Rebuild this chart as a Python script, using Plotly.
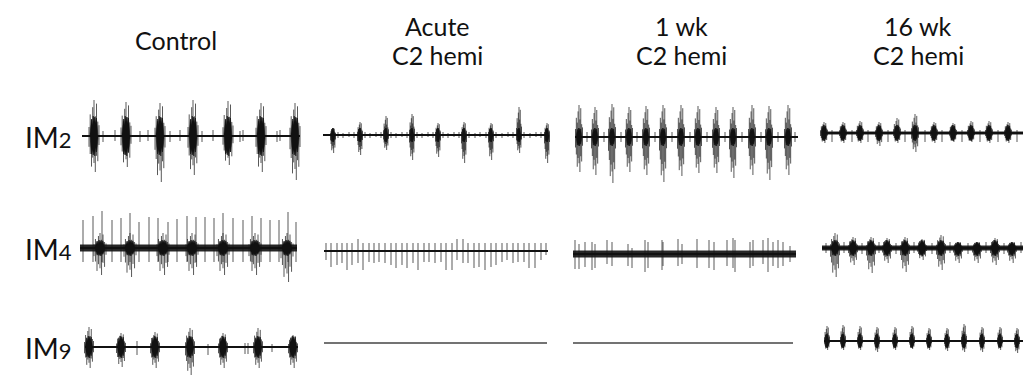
import plotly.graph_objects as go

# ------------------------------------------------------------------
# DATA  (t = time in sample units from start of each record,
#        amplitudes in arbitrary units: up = positive peak, dn = negative peak)
# ------------------------------------------------------------------
COLUMN_TITLES = [["Control"], ["Acute", "C2 hemi"], ["1 wk", "C2 hemi"], ["16 wk", "C2 hemi"]]
MUSCLES = ["2", "4", "9"]

# ---- IM2 ----
CTRL_IM2_LEN = 218
CTRL_IM2_BURSTS = [(12, 36, 36), (44, 34, 31), (78, 33, 46), (111, 36, 39), (146, 35, 29), (179, 33, 36), (213, 33, 44)]
CTRL_IM2_SPIKES = [(21, 5, 6), (33, 6, 5), (58, 5, 6), (66, 6, 5), (88, 5, 6), (98, 6, 5), (120, 5, 6), (131, 6, 5),
                   (158, 5, 6), (161, 6, 5), (195, 5, 6), (198, 6, 5)]

ACUTE_IM2_LEN = 225
ACUTE_IM2_BURSTS = [(10, 7, 18), (37, 13, 20), (63, 19, 15), (89, 21, 25), (115, 12, 22), (141, 13, 28), (168, 12, 25),
                    (196, 28, 18), (224, 12, 28)]
ACUTE_IM2_SPIKES = [(15, 3, 3), (20, 2, 3), (26, 3, 2), (31, 3, 3), (42, 3, 3), (47, 2, 3), (53, 3, 2), (58, 3, 3),
                    (68, 3, 3), (73, 2, 3), (79, 3, 2), (84, 3, 3), (94, 3, 3), (99, 2, 3), (105, 3, 2), (110, 3, 3),
                    (120, 3, 3), (125, 2, 3), (131, 3, 2), (136, 3, 3), (146, 3, 3), (152, 2, 3), (157, 3, 2), (163, 3, 3),
                    (173, 3, 3), (179, 2, 3), (185, 3, 2), (190, 3, 3), (201, 3, 3), (207, 2, 3), (213, 3, 2), (218, 3, 3)]

WK1_IM2_LEN = 223
WK1_IM2_BURSTS = [(4, 32, 35), (20, 30, 38), (37, 33, 46), (54, 30, 35), (71, 31, 38), (88, 32, 45), (106, 32, 39),
                  (123, 31, 36), (141, 30, 36), (158, 30, 41), (177, 32, 38), (194, 31, 43), (213, 32, 38)]
WK1_IM2_SPIKES = [(12, 5, 5), (29, 5, 5), (46, 5, 5), (62, 5, 5), (80, 5, 5), (97, 5, 5), (115, 5, 5), (132, 5, 5),
                  (150, 5, 5), (167, 5, 5), (186, 5, 5), (203, 5, 5), (220, 5, 5)]

WK16_IM2_LEN = 205
WK16_IM2_BURSTS = [(2, 11, 10), (21, 11, 10), (38, 12, 10), (57, 11, 13), (75, 15, 10), (93, 19, 19), (112, 11, 10),
                   (131, 10, 9), (149, 12, 9), (167, 12, 10), (186, 11, 10)]
WK16_IM2_SPIKES = [(10, 3, 9), (30, 3, 9), (46, 3, 9), (66, 3, 9), (83, 3, 9), (103, 3, 9), (120, 3, 9), (140, 3, 9),
                   (158, 3, 9), (176, 3, 9), (195, 3, 9)]

# ---- IM4 ----
CTRL_IM4_LEN = 217
CTRL_IM4_BURSTS = [(20, 15, 27), (50, 15, 29), (83, 15, 27), (112, 15, 27), (143, 15, 27), (175, 15, 27), (207, 15, 34)]
CTRL_IM4_SPIKES = [(3, 28, 14), (13, 32, 14), (22, 37, 14), (32, 28, 14), (41, 30, 14), (50, 35, 14), (59, 26, 14),
                   (69, 31, 14), (78, 30, 14), (88, 26, 14), (97, 29, 14), (107, 32, 14), (116, 31, 14), (125, 31, 14),
                   (134, 30, 14), (143, 35, 14), (153, 30, 14), (163, 28, 14), (172, 32, 14), (181, 30, 14),
                   (190, 28, 14), (199, 28, 14), (208, 36, 14), (216, 26, 14)]

ACUTE_IM4_LEN = 224
ACUTE_IM4_BURSTS = []
ACUTE_IM4_SPIKES = [(2, 8, 9), (7, 8, 16), (13, 8, 14), (18, 8, 12), (23, 8, 19), (28, 8, 14), (34, 12, 12), (39, 8, 19),
                    (45, 8, 11), (50, 8, 12), (55, 8, 11), (61, 8, 12), (67, 8, 14), (72, 8, 17), (78, 8, 14),
                    (83, 8, 17), (89, 8, 12), (94, 8, 19), (100, 8, 11), (105, 8, 11), (111, 8, 12), (117, 8, 11),
                    (122, 8, 19), (128, 8, 19), (133, 12, 9), (139, 12, 12), (144, 8, 12), (150, 8, 17), (155, 8, 16),
                    (161, 8, 19), (167, 8, 16), (172, 8, 14), (178, 8, 11), (183, 8, 9), (189, 8, 12), (194, 8, 11),
                    (200, 8, 11), (205, 8, 17), (211, 8, 17), (217, 8, 9), (222, 8, 4)]

WK1_IM4_LEN = 223
WK1_IM4_BURSTS = []
WK1_IM4_SPIKES = [(2, 14, 15), (6, 10, 15), (12, 12, 13), (19, 12, 16), (22, 10, 14), (34, 14, 10), (39, 12, 12),
                  (55, 10, 12), (59, 6, 14), (72, 14, 18), (75, 12, 14), (89, 14, 16), (90, 12, 12), (105, 15, 12),
                  (109, 10, 10), (124, 15, 14), (136, 14, 14), (141, 12, 16), (154, 14, 12), (160, 16, 14),
                  (162, 14, 18), (177, 12, 14), (180, 14, 12), (190, 14, 10), (195, 16, 18), (200, 12, 12),
                  (205, 14, 14), (210, 12, 12), (217, 8, 8)]

WK16_IM4_LEN = 205
WK16_IM4_BURSTS = [(13, 15, 29), (31, 11, 17), (49, 11, 25), (65, 10, 15), (83, 11, 24), (100, 9, 12), (119, 13, 22),
                   (136, 6, 15), (155, 6, 15), (173, 10, 17), (190, 6, 15)]
WK16_IM4_SPIKES = [(4, 5, 5), (22, 6, 5), (40, 5, 6), (57, 6, 5), (74, 5, 6), (92, 6, 5), (110, 5, 6), (128, 6, 5),
                   (146, 5, 6), (164, 6, 5), (182, 5, 6), (199, 6, 5)]

# ---- IM9 ----
CTRL_IM9_LEN = 213
CTRL_IM9_BURSTS = [(4, 20, 21), (36, 14, 20), (70, 15, 21), (105, 19, 28), (138, 14, 21), (173, 19, 21), (208, 12, 21)]
CTRL_IM9_SPIKES = [(52, 6, 8), (123, 3, 8), (160, 4, 7), (163, 4, 7), (187, 3, 5)]

ACUTE_IM9_LEN = 223
ACUTE_IM9_BURSTS = []
ACUTE_IM9_SPIKES = []

WK1_IM9_LEN = 220
WK1_IM9_BURSTS = []
WK1_IM9_SPIKES = []

WK16_IM9_LEN = 205
WK16_IM9_BURSTS = [(3, 15, 9), (19, 16, 9), (36, 15, 9), (53, 14, 11), (71, 14, 9), (88, 15, 8), (105, 13, 9),
                   (123, 13, 10), (140, 17, 11), (158, 14, 11), (176, 14, 9), (193, 13, 12)]
WK16_IM9_SPIKES = []

RECORDS = [
    [(CTRL_IM2_LEN, CTRL_IM2_BURSTS, CTRL_IM2_SPIKES), (ACUTE_IM2_LEN, ACUTE_IM2_BURSTS, ACUTE_IM2_SPIKES),
     (WK1_IM2_LEN, WK1_IM2_BURSTS, WK1_IM2_SPIKES), (WK16_IM2_LEN, WK16_IM2_BURSTS, WK16_IM2_SPIKES)],
    [(CTRL_IM4_LEN, CTRL_IM4_BURSTS, CTRL_IM4_SPIKES), (ACUTE_IM4_LEN, ACUTE_IM4_BURSTS, ACUTE_IM4_SPIKES),
     (WK1_IM4_LEN, WK1_IM4_BURSTS, WK1_IM4_SPIKES), (WK16_IM4_LEN, WK16_IM4_BURSTS, WK16_IM4_SPIKES)],
    [(CTRL_IM9_LEN, CTRL_IM9_BURSTS, CTRL_IM9_SPIKES), (ACUTE_IM9_LEN, ACUTE_IM9_BURSTS, ACUTE_IM9_SPIKES),
     (WK1_IM9_LEN, WK1_IM9_BURSTS, WK1_IM9_SPIKES), (WK16_IM9_LEN, WK16_IM9_BURSTS, WK16_IM9_SPIKES)],
]

# ------------------------------------------------------------------
# LAYOUT / STYLE (pixel geometry of the figure)
# ------------------------------------------------------------------
W, H = 1023, 375
PANEL_START = [[82, 323, 575, 822], [80, 324, 573, 822], [85, 324, 573, 824]]
PANEL_BASE = [[136, 135, 137, 133], [248, 251, 254, 248], [347, 343, 343, 341]]
BURST_W = [[10, 5, 7, 7], [12, 0, 0, 9], [9, 0, 0, 5]]
BURST_CORE = [[20, 7, 9, 8], [8, 0, 0, 8], [11, 0, 0, 7]]
BAND = [[0, 0, 0, 1.5], [3.5, 0, 3.5, 2.5], [0, 0, 0, 1]]
BASE_W = [[2, 2, 2, 2], [2, 2, 2, 2], [2, 1.6, 1.6, 2]]
BASE_C = [["#111", "#111", "#111", "#111"], ["#111", "#111", "#111", "#111"], ["#111", "#444", "#444", "#111"]]
TITLE_X = [176, 437, 681, 918]
ROW_LABEL_X = 48

FONT = "Lato, 'Open Sans', sans-serif"
INK = "#111111"

# burst glyph: fringe lines and a jagged dense core
OFFS = [-0.5, -0.38, -0.25, -0.13, 0.0, 0.13, 0.25, 0.38, 0.5]
FU = [0.25, 0.6, 0.45, 0.8, 1.0, 0.55, 0.9, 0.4, 0.3]
FD = [0.3, 0.5, 0.85, 0.6, 0.75, 1.0, 0.55, 0.7, 0.25]
CORE_OFF = [-0.5, -0.4, -0.3, -0.2, -0.1, 0.0, 0.1, 0.2, 0.3, 0.4, 0.5]
CORE_UP = [0.1, 0.55, 0.85, 0.5, 1.0, 0.7, 0.95, 0.6, 0.9, 0.45, 0.1]
CORE_DN = [0.1, 0.5, 0.9, 0.65, 0.95, 0.75, 1.0, 0.55, 0.8, 0.5, 0.1]

fig = go.Figure()
layout = dict(width=W, height=H, margin=dict(l=0, r=0, t=0, b=0), paper_bgcolor="white",
              plot_bgcolor="rgba(0,0,0,0)", showlegend=False)

idx = 0
for r in range(3):
    for c in range(4):
        idx += 1
        length, bursts, spikes = RECORDS[r][c]
        sp = PANEL_START[r][c]
        bp = PANEL_BASE[r][c]
        bw = BURST_W[r][c]
        core = BURST_CORE[r][c]
        band = BAND[r][c]
        xname = "x" if idx == 1 else f"x{idx}"
        yname = "y" if idx == 1 else f"y{idx}"
        xkey = "xaxis" if idx == 1 else f"xaxis{idx}"
        ykey = "yaxis" if idx == 1 else f"yaxis{idx}"

        px0 = sp - 6
        px1 = min(W, sp + length + 6)
        layout[xkey] = dict(domain=[px0 / W, px1 / W], range=[px0 - sp, px1 - sp], visible=False,
                            anchor=yname, fixedrange=True)
        h = min(55, bp, H - bp)
        layout[ykey] = dict(domain=[1 - (bp + h) / H, 1 - (bp - h) / H], range=[-h, h], visible=False,
                            anchor=xname, fixedrange=True)

        # noise band
        if band > 0:
            fig.add_trace(go.Scatter(x=[0, length, length, 0, 0], y=[-band, -band, band, band, -band],
                                     mode="lines", fill="toself", fillcolor="rgba(15,15,15,0.9)",
                                     line=dict(width=0), xaxis=xname, yaxis=yname, hoverinfo="skip"))
        # spikes + burst fringes
        sx, sy = [], []
        for t, up, dn in spikes:
            sx += [t, t, None]
            sy += [up, -dn, None]
        for t, up, dn in bursts:
            for o, fu, fd in zip(OFFS, FU, FD):
                xx = t + o * bw
                sx += [xx, xx, None]
                sy += [up * fu, -dn * fd, None]
        if sx:
            fig.add_trace(go.Scatter(x=sx, y=sy, mode="lines", line=dict(color="rgba(25,25,25,0.72)", width=1),
                                     xaxis=xname, yaxis=yname, hoverinfo="skip"))
        # baseline
        fig.add_trace(go.Scatter(x=[0, length], y=[0, 0], mode="lines",
                                 line=dict(color=BASE_C[r][c], width=BASE_W[r][c]),
                                 xaxis=xname, yaxis=yname, hoverinfo="skip"))
        # burst cores (jagged)
        cx, cy = [], []
        for t, up, dn in bursts:
            cu = min(core, up)
            cd = min(core, dn)
            for o, f in zip(CORE_OFF, CORE_UP):
                cx.append(t + o * bw * 0.8)
                cy.append(cu * f)
            for o, f in zip(reversed(CORE_OFF), reversed(CORE_DN)):
                cx.append(t + o * bw * 0.8)
                cy.append(-cd * f)
            cx += [t - 0.4 * bw, None]
            cy += [cu * CORE_UP[0], None]
        if cx:
            fig.add_trace(go.Scatter(x=cx, y=cy, mode="lines", fill="toself", fillcolor=INK,
                                     line=dict(color=INK, width=0.6), xaxis=xname, yaxis=yname,
                                     hoverinfo="skip"))

annotations = []
for c, lines in enumerate(COLUMN_TITLES):
    ys = [40] if len(lines) == 1 else [26, 55]
    for txt, yy in zip(lines, ys):
        annotations.append(dict(text=txt, x=TITLE_X[c] / W, y=1 - yy / H, xref="paper", yref="paper",
                                xanchor="center", yanchor="middle", showarrow=False,
                                font=dict(family=FONT, size=25, color=INK)))
for r, m in enumerate(MUSCLES):
    bp = PANEL_BASE[r][0]
    annotations.append(dict(text=f"IM<span style='font-size:22px'>{m}</span>", x=ROW_LABEL_X / W,
                            y=1 - (bp + 1) / H, xref="paper", yref="paper", xanchor="center",
                            yanchor="middle", showarrow=False, font=dict(family=FONT, size=28, color=INK)))
layout["annotations"] = annotations
fig.update_layout(**layout)
fig.write_html("out.html")
